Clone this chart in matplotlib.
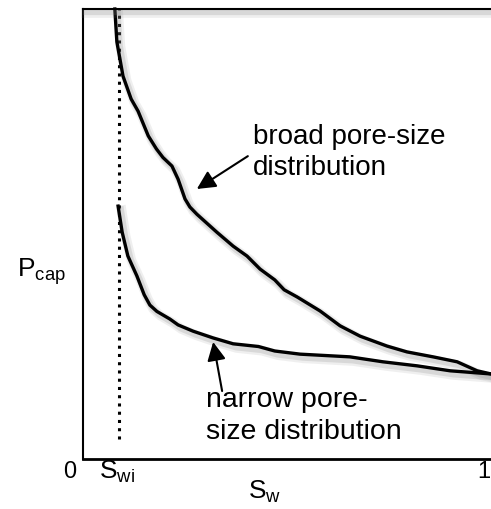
import matplotlib
matplotlib.use("Agg")
import matplotlib.pyplot as plt
import matplotlib.patheffects as pe

plt.rcParams['font.family'] = ['Liberation Sans', 'DejaVu Sans']
plt.rcParams['mathtext.fontset'] = 'custom'
plt.rcParams['mathtext.rm'] = 'Liberation Sans'
plt.rcParams['mathtext.it'] = 'Liberation Sans'

# saturation (fraction of axis) vs capillary pressure (fraction of axis)
broad_sw = [0.078, 0.083, 0.098, 0.118, 0.135, 0.160, 0.180, 0.196, 0.218, 0.233,
            0.250, 0.262, 0.279, 0.328, 0.368, 0.402, 0.434, 0.470, 0.493, 0.525,
            0.581, 0.630, 0.679, 0.745, 0.794, 0.858, 0.917, 0.966, 1.0]
broad_pc = [1.0, 0.927, 0.851, 0.800, 0.773, 0.718, 0.689, 0.670, 0.651, 0.622,
            0.578, 0.560, 0.544, 0.504, 0.473, 0.451, 0.422, 0.398, 0.376, 0.360,
            0.329, 0.296, 0.273, 0.251, 0.238, 0.227, 0.216, 0.196, 0.189]

narrow_sw = [0.086, 0.096, 0.110, 0.132, 0.150, 0.164, 0.181, 0.213, 0.233, 0.270,
             0.319, 0.368, 0.430, 0.470, 0.532, 0.654, 0.735, 0.819, 0.900, 1.0]
narrow_pc = [0.562, 0.504, 0.451, 0.407, 0.365, 0.342, 0.328, 0.311, 0.298, 0.284,
             0.269, 0.256, 0.250, 0.240, 0.233, 0.227, 0.216, 0.207, 0.196, 0.189]

swi = 0.088

shadow = [pe.SimpleLineShadow(offset=(2.5, -3), shadow_color='0.5', alpha=0.12, linewidth=7),
          pe.SimpleLineShadow(offset=(2, -2.5), shadow_color='0.5', alpha=0.2, linewidth=4.5),
          pe.Normal()]

fig = plt.figure(figsize=(4.91, 5.10), dpi=100)
ax = fig.add_axes([83 / 491, 50 / 510, 408 / 491, 450 / 510])
ax.set_xlim(0, 1)
ax.set_ylim(0, 1)
ax.set_xticks([])
ax.set_yticks([])
ax.spines['right'].set_visible(False)
ax.spines['left'].set_linewidth(1.5)
ax.spines['bottom'].set_linewidth(2)
ax.spines['top'].set_linewidth(1.5)
ax.spines['top'].set_path_effects(shadow)

ax.plot([swi, swi], [0.044, 1.0], color='black', lw=2.2,
        linestyle=(0, (1, 1.7)), solid_capstyle='butt')
ax.plot(broad_sw, broad_pc, color='black', lw=2.4, path_effects=shadow,
        solid_joinstyle='round', clip_on=False)
ax.plot(narrow_sw, narrow_pc, color='black', lw=2.4, path_effects=shadow,
        solid_joinstyle='round', clip_on=False)

arrow = dict(arrowstyle='-|>,head_length=0.8,head_width=0.4', color='black',
             lw=1.5, mutation_scale=14, shrinkA=0, shrinkB=0)
ax.annotate('', xy=(0.279, 0.600), xytext=(0.404, 0.673), arrowprops=arrow)
ax.annotate('', xy=(0.319, 0.260), xytext=(0.341, 0.151), arrowprops=arrow)

ax.text(0.417, 0.718, 'broad pore-size', fontsize=20, ha='left', va='center')
ax.text(0.417, 0.649, 'distribution', fontsize=20, ha='left', va='center')
ax.text(0.301, 0.133, 'narrow pore-', fontsize=20.5, ha='left', va='center')
ax.text(0.301, 0.062, 'size distribution', fontsize=20.5, ha='left', va='center')

ax.text(-0.032, -0.026, '0', fontsize=17, ha='center', va='center', clip_on=False)
ax.text(0.083, -0.026, r'$\mathrm{S_{wi}}$', fontsize=19, ha='center', va='center', clip_on=False)
ax.text(0.983, -0.026, '1', fontsize=17, ha='center', va='center', clip_on=False)
ax.text(0.446, -0.071, r'$\mathrm{S_{w}}$', fontsize=19, ha='center', va='center', clip_on=False)
ax.text(-0.103, 0.418, r'$\mathrm{P_{cap}}$', fontsize=19, ha='center', va='center', clip_on=False)

fig.savefig('out.png', dpi=100)
